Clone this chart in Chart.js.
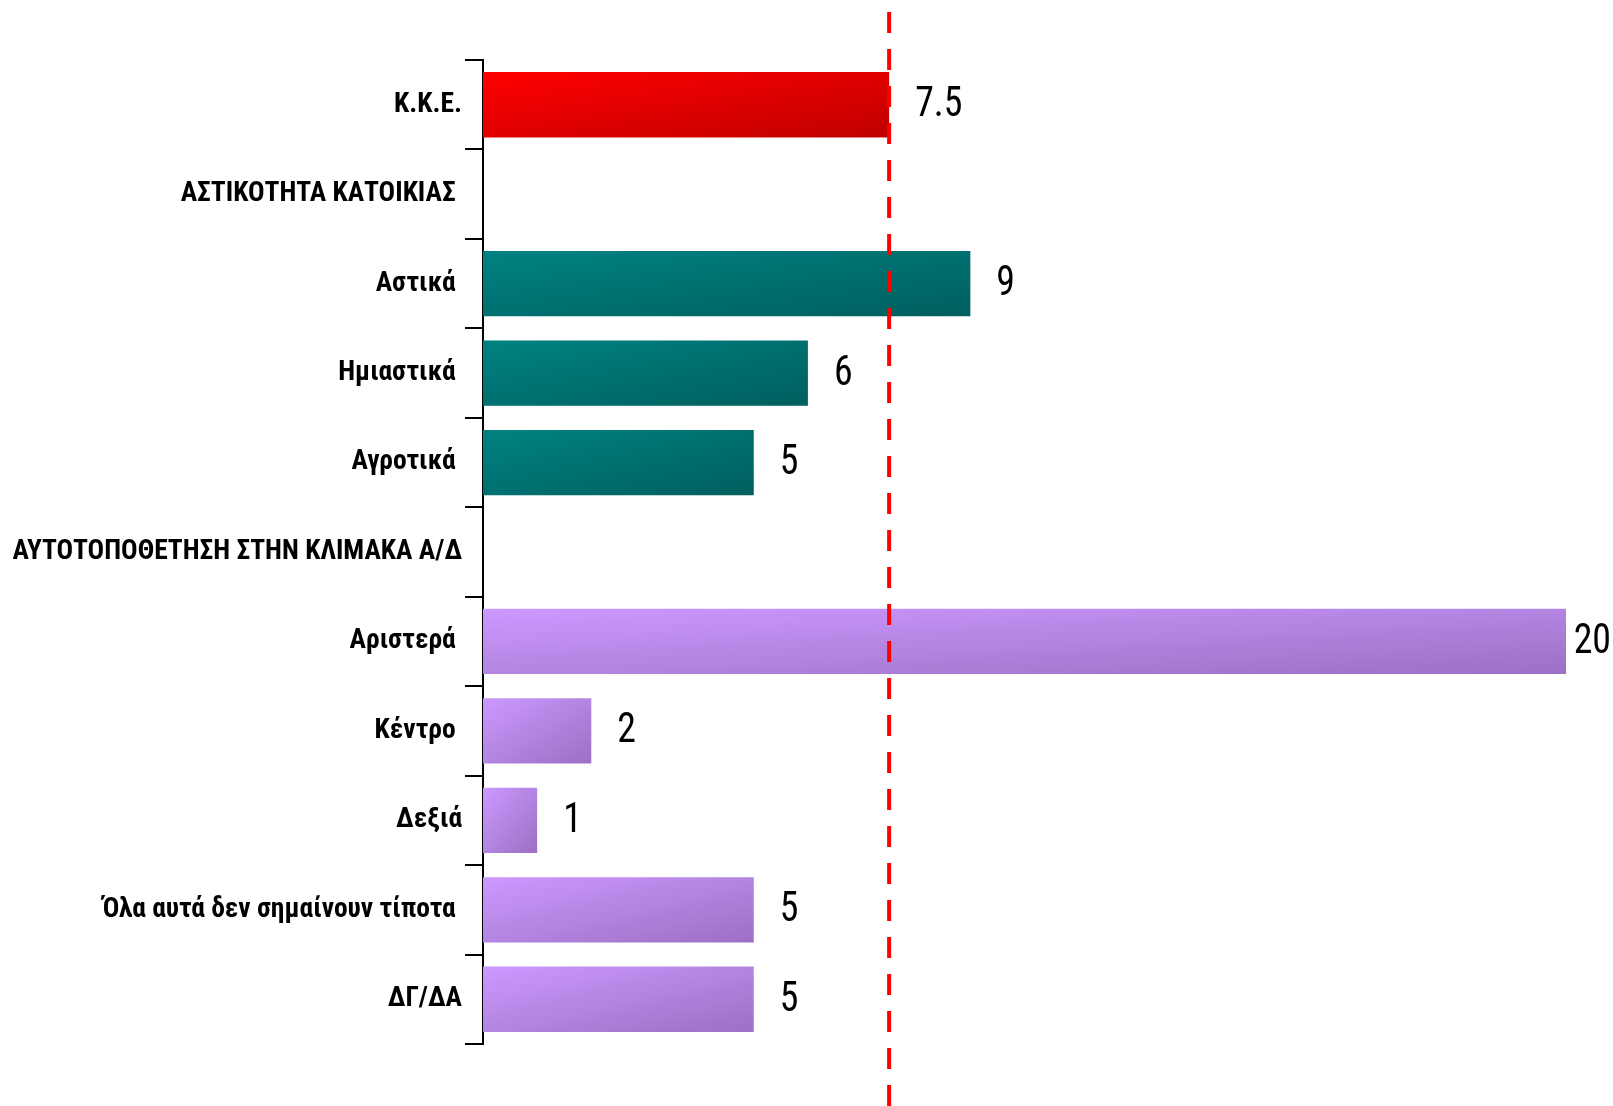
<!DOCTYPE html>
<html>
<head>
<meta charset="utf-8">
<script src="https://cdn.jsdelivr.net/npm/chart.js@4.4.1/dist/chart.umd.min.js"></script>
<style>
  html, body { margin: 0; padding: 0; background: #ffffff; }
  canvas { display: block; }
</style>
</head>
<body>
<canvas id="c" width="1613" height="1106"></canvas>
<script>
const categories = [
  'Κ.Κ.Ε.',
  'ΑΣΤΙΚΟΤΗΤΑ ΚΑΤΟΙΚΙΑΣ ',
  'Αστικά ',
  'Ημιαστικά ',
  'Αγροτικά ',
  'ΑΥΤΟΤΟΠΟΘΕΤΗΣΗ ΣΤΗΝ ΚΛΙΜΑΚΑ Α/Δ',
  'Αριστερά ',
  'Κέντρο ',
  'Δεξιά',
  'Όλα αυτά δεν σημαίνουν τίποτα ',
  'ΔΓ/ΔΑ'
];
const values = [7.5, null, 9, 6, 5, null, 20, 2, 1, 5, 5];
const groups = ['party', null, 'urban', 'urban', 'urban', null, 'scale', 'scale', 'scale', 'scale', 'scale'];
const referenceValue = 7.5;
const xMax = 20;

const palette = {
  party: ['#ff0000', '#c00000'],
  urban: ['#008282', '#005e5e'],
  scale: ['#cc99ff', '#9c70c4']
};

const CONDENSED = '"Liberation Sans Narrow", "Arial Narrow", "Roboto Condensed", "DejaVu Sans Condensed", sans-serif';
const BAR_PCT = 0.73;

function barGradient(ctx) {
  const chart = ctx.chart;
  const area = chart.chartArea;
  const g = groups[ctx.dataIndex];
  const cols = palette[g] || ['#999', '#666'];
  if (!area || ctx.type !== 'data') return cols[0];
  const xs = chart.scales.x, ys = chart.scales.y;
  const v = values[ctx.dataIndex];
  if (v == null) return cols[0];
  const x0 = xs.getPixelForValue(0);
  const x1 = xs.getPixelForValue(v);
  const yc = ys.getPixelForValue(ctx.dataIndex);
  const h = BAR_PCT * (area.height / categories.length);
  const y0 = yc - h / 2;
  const w = x1 - x0;
  const k = (2 * w * h) / (w * w + h * h);
  const grad = chart.ctx.createLinearGradient(x0, y0, x0 + h * k, y0 + w * k);
  grad.addColorStop(0, cols[0]);
  grad.addColorStop(1, cols[1]);
  return grad;
}

const overlayPlugin = {
  id: 'overlay',
  afterDatasetsDraw(chart) {
    const ctx = chart.ctx;
    const xs = chart.scales.x;
    const xr = xs.getPixelForValue(referenceValue);
    ctx.save();
    ctx.strokeStyle = '#ff0000';
    ctx.lineWidth = 4;
    ctx.setLineDash([21, 16]);
    ctx.beginPath();
    ctx.moveTo(xr, -25);
    ctx.lineTo(xr, chart.height + 10);
    ctx.stroke();
    ctx.restore();

    const meta = chart.getDatasetMeta(0);
    const sx = 0.9;
    ctx.save();
    ctx.font = '42px ' + CONDENSED;
    ctx.fillStyle = '#000000';
    ctx.textBaseline = 'middle';
    ctx.textAlign = 'left';
    meta.data.forEach((el, i) => {
      const v = values[i];
      if (v == null) return;
      const txt = String(v);
      const tw = ctx.measureText(txt).width * sx;
      let x = el.x + 26;
      if (x + tw > chart.width - 2) x = chart.width - 2 - tw;
      ctx.save();
      ctx.translate(x, el.y + 1);
      ctx.scale(sx, 1);
      ctx.fillText(txt, 0, 0);
      ctx.restore();
    });
    ctx.restore();
  }
};

new Chart(document.getElementById('c'), {
  type: 'bar',
  data: {
    labels: categories,
    datasets: [{
      data: values,
      backgroundColor: barGradient,
      borderWidth: 0,
      barPercentage: BAR_PCT,
      categoryPercentage: 1.0
    }]
  },
  options: {
    indexAxis: 'y',
    responsive: false,
    animation: false,
    layout: { padding: { top: 60, bottom: 62, left: 0, right: 47 } },
    plugins: {
      legend: { display: false },
      tooltip: { enabled: false },
      title: { display: false }
    },
    scales: {
      x: {
        display: false,
        min: 0,
        max: xMax
      },
      y: {
        afterFit(scale) { scale.width = 483; },
        border: { display: true, color: '#000000', width: 2 },
        grid: {
          offset: true,
          drawOnChartArea: false,
          drawTicks: true,
          tickLength: 18,
          color: '#000000',
          lineWidth: 2
        },
        ticks: {
          padding: 3,
          color: '#000000',
          autoSkip: false,
          font: { family: CONDENSED, size: 27.5, weight: 'bold' }
        }
      }
    }
  },
  plugins: [overlayPlugin]
});
</script>
</body>
</html>
